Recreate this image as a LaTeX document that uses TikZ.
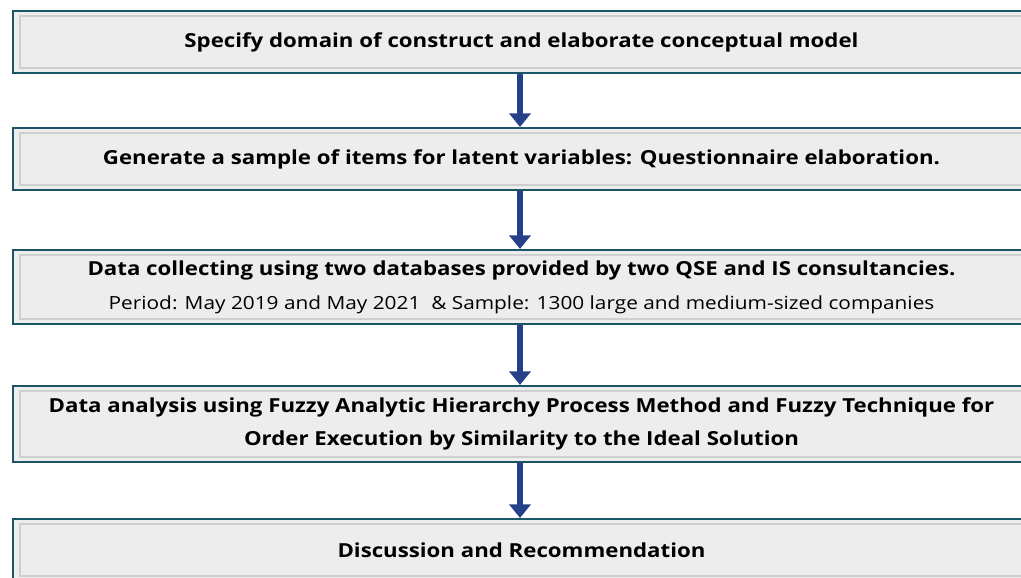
\documentclass[tikz,border=0pt]{standalone}
\usepackage{fontspec}
\setmainfont{Open Sans}[FakeStretch=1.15]
\usetikzlibrary{arrows.meta,positioning}
\definecolor{frameTeal}{HTML}{1D5568}
\definecolor{boxGray}{HTML}{EDEDED}
\definecolor{innerGray}{HTML}{CFCFCF}
\definecolor{arrBlue}{HTML}{24418A}

\begin{document}
\begin{tikzpicture}[x=1cm,y=1cm,
    stage/.style={draw=frameTeal,line width=1.2pt,fill=boxGray,minimum width=20.34cm,align=center,
      font=\fontsize{11}{18.5}\selectfont\bfseries,
      path picture={\draw[innerGray,line width=0.8pt] ([shift={(0.14,-0.1)}]path picture bounding box.north west) rectangle ([shift={(-0.14,0.1)}]path picture bounding box.south east);}},
    arr/.style={-{Triangle[length=0.27cm,width=0.42cm]},line width=3.4pt,arrBlue}]
    \useasboundingbox (0,0) rectangle (20.42,-11.54);
    \clip (0,0) rectangle (20.42,-11.54);
    \node[stage,minimum height=1.24cm] (b1) at (10.43,-0.84) {Specify domain of construct and elaborate conceptual model};
    \node[stage,minimum height=1.24cm] (b2) at (10.43,-3.18) {Generate a sample of items for latent variables: Questionnaire elaboration.};
    \node[stage,minimum height=1.48cm] (b3) at (10.43,-5.74) {Data collecting using two databases provided by two QSE and IS consultancies.\\[1pt]
      {\mdseries\fontsize{10.3}{16}\selectfont Period: May 2019 and May 2021\ \ \& Sample: 1300 large and medium-sized companies}};
    \node[stage,minimum height=1.52cm] (b4) at (10.43,-8.48) {Data analysis using Fuzzy Analytic Hierarchy Process Method and Fuzzy Technique for\\
      Order Execution by Similarity to the Ideal Solution};
    \node[stage,minimum height=1.24cm] (b5) at (10.43,-11.0) {Discussion and Recommendation};
    \draw[arr] ([xshift=-0.03cm]b1.south) -- ([xshift=-0.03cm]b2.north);
    \draw[arr] ([xshift=-0.03cm]b2.south) -- ([xshift=-0.03cm]b3.north);
    \draw[arr] ([xshift=-0.03cm]b3.south) -- ([xshift=-0.03cm]b4.north);
    \draw[arr] ([xshift=-0.03cm]b4.south) -- ([xshift=-0.03cm]b5.north);
  \end{tikzpicture}
\end{document}
